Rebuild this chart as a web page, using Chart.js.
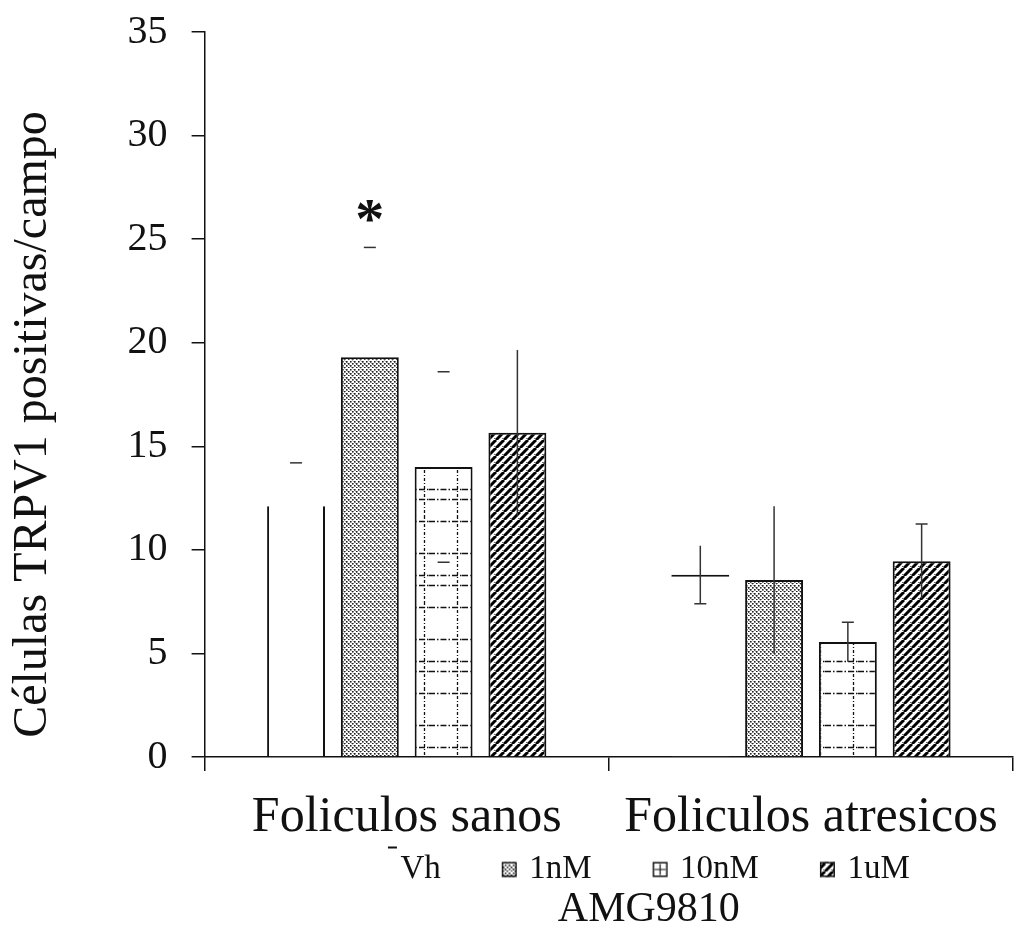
<!DOCTYPE html>
<html>
<head>
<meta charset="utf-8">
<script src="https://cdn.jsdelivr.net/npm/chart.js@4.4.1/dist/chart.umd.min.js"></script>
<style>
  html, body { margin: 0; padding: 0; background: #fff; }
  #wrap { width: 1020px; height: 926px; }
</style>
</head>
<body>
<div id="wrap"><canvas id="chart"></canvas></div>
<script>
// values: bar height (mean) and error half-length
const groups = ["Foliculos sanos", "Foliculos atresicos"];
const doses = ["Vh", "1nM", "10nM", "1uM"];
const vhMean = [12.1, 8.8];
const vhErr = [2.1, 1.4];
const nm1Mean = [19.3, 8.55];
const nm1Err = [5.3, 3.55];
const nm10Mean = [14.0, 5.55];
const nm10Err = [4.6, 0.95];
const um1Mean = [15.65, 9.45];
const um1Err = [4.0, 1.8];
const nm1Marks = ["*", ""];
const yMin = 0, yMax = 35, yStep = 5;

const FONT = "'Liberation Serif', 'Times New Roman', serif";
const INK = "#111";

// ---- fill patterns ----
function tile(w, h, draw) {
  const c = document.createElement("canvas");
  c.width = w; c.height = h;
  const g = c.getContext("2d");
  g.fillStyle = "#fff";
  g.fillRect(0, 0, w, h);
  draw(g);
  return c;
}
const dotTile = tile(8, 8, g => {
  g.strokeStyle = "#aaa"; g.lineWidth = 1;
  for (const k of [-8, 0, 8]) { g.beginPath(); g.moveTo(k, 0); g.lineTo(k + 8, 8); g.stroke(); }
  g.fillStyle = "#222";
  for (const [x, y] of [[0, 7], [2, 5], [4, 3], [6, 1], [0, 3], [2, 1], [4, 7], [6, 5]]) g.fillRect(x, y, 1.6, 1.6);
});
const gridTile = tile(33, 86, g => {
  g.strokeStyle = "#111"; g.lineWidth = 1.3;
  g.setLineDash([6, 2, 1.5, 2]);
  for (const y of [5.5, 37.5, 59.5, 69.5]) { g.beginPath(); g.moveTo(0, y); g.lineTo(33, y); g.stroke(); }
  g.setLineDash([3, 2, 1, 2]);
  g.beginPath(); g.moveTo(28.5, 0); g.lineTo(28.5, 86); g.stroke();
});
const stripeTile = tile(8, 8, g => {
  g.strokeStyle = "#000"; g.lineWidth = 3;
  for (const k of [-8, 0, 8]) { g.beginPath(); g.moveTo(k, 8); g.lineTo(k + 8, 0); g.stroke(); }
  g.fillStyle = "#666";
  g.fillRect(6, 6, 1, 1);
});
const ctx = document.getElementById("chart").getContext("2d");
const dotFill = ctx.createPattern(dotTile, "repeat");
const gridFill = ctx.createPattern(gridTile, "repeat");
const stripeFill = ctx.createPattern(stripeTile, "repeat");

// ---- legend icons (transparent margin on the left gives the item spacing) ----
function icon(draw) {
  const c = document.createElement("canvas");
  c.width = 92; c.height = 60;
  const g = c.getContext("2d");
  draw(g, 67, 22.5, 15);
  return c;
}
function boxed(g, x, y, s) {
  g.strokeStyle = INK; g.lineWidth = 1.5;
  g.strokeRect(x + 0.75, y + 0.75, s - 1.5, s - 1.5);
}
const icons = [
  icon(g => { g.fillStyle = INK; g.fillRect(82, 7, 9, 2); }),
  icon((g, x, y, s) => { g.fillStyle = g.createPattern(dotTile, "repeat"); g.fillRect(x, y, s, s); boxed(g, x, y, s); }),
  icon((g, x, y, s) => { g.fillStyle = "#fff"; g.fillRect(x, y, s, s); boxed(g, x, y, s);
    g.lineWidth = 1.2; g.beginPath(); g.moveTo(x + 7.5, y + 2); g.lineTo(x + 7.5, y + s - 2);
    g.moveTo(x + 2, y + 7.5); g.lineTo(x + s - 2, y + 7.5); g.stroke(); }),
  icon((g, x, y, s) => { g.fillStyle = g.createPattern(stripeTile, "repeat"); g.fillRect(x, y, s, s); boxed(g, x, y, s); }),
];

// which parts of each whisker are visible in the figure, per dose, per group
const errorParts = [
  [["top"], ["line", "bottom"]],
  [["top"], ["line"]],
  [["top", "bottom"], ["line", "top"]],
  [["line"], ["line", "top"]],
];

const errorBars = {
  id: "errorBars",
  afterDatasetsDraw(chart) {
    const c = chart.ctx, ys = chart.scales.y;
    c.save();
    c.strokeStyle = "#333";
    c.lineWidth = 1.5;
    chart.data.datasets.forEach((ds, i) => {
      chart.getDatasetMeta(i).data.forEach((bar, j) => {
        const hi = ys.getPixelForValue(ds.data[j] + ds.errors[j]);
        const lo = ys.getPixelForValue(ds.data[j] - ds.errors[j]);
        const parts = errorParts[i][j];
        c.beginPath();
        if (parts.includes("line")) { c.moveTo(bar.x, hi); c.lineTo(bar.x, lo); }
        if (parts.includes("top")) { c.moveTo(bar.x - 6, hi); c.lineTo(bar.x + 6, hi); }
        if (parts.includes("bottom")) { c.moveTo(bar.x - 6, lo); c.lineTo(bar.x + 6, lo); }
        c.stroke();
        if (ds.marks && ds.marks[j]) {
          c.fillStyle = INK;
          c.font = "bold 58px " + FONT;
          c.textAlign = "center";
          c.textBaseline = "alphabetic";
          c.fillText(ds.marks[j], bar.x, hi - 9);
        }
      });
    });
    c.restore();
  }
};

// legend and axis title sit a little off where the layout puts them
const nudge = {
  id: "nudge",
  afterLayout(chart) {
    const lg = chart.legend, tt = chart.titleBlock;
    lg.left += 6; lg.right += 6; lg.top -= 20; lg.bottom = lg.top + 60;
    tt.left += 40; tt.right += 40; tt.top += 5; tt.bottom += 5;
  }
};

new Chart(ctx, {
  type: "bar",
  data: {
    labels: groups,
    datasets: [
      { label: doses[0], data: vhMean, errors: vhErr, backgroundColor: "#fff", borderColor: INK,
        borderWidth: c => c.dataIndex === 0 ? { left: 2, right: 2, top: 0, bottom: 0 } : { left: 0, right: 0, top: 2, bottom: 0 } },
      { label: doses[1], data: nm1Mean, errors: nm1Err, marks: nm1Marks, backgroundColor: dotFill, borderColor: INK, borderWidth: 2 },
      { label: doses[2], data: nm10Mean, errors: nm10Err, backgroundColor: gridFill, borderColor: INK, borderWidth: 2 },
      { label: doses[3], data: um1Mean, errors: um1Err, backgroundColor: stripeFill, borderColor: INK, borderWidth: 2 },
    ]
  },
  options: {
    responsive: true,
    maintainAspectRatio: false,
    animation: false,
    categoryPercentage: 0.73,
    barPercentage: 0.785,
    layout: { padding: { top: 32, right: 1, left: 0, bottom: 0 } },
    scales: {
      x: {
        grid: { drawOnChartArea: false, tickLength: 14, color: INK, lineWidth: 1.5 },
        border: { color: INK, width: 1.5 },
        ticks: { color: INK, font: { family: FONT, size: 50, lineHeight: 1 }, padding: 22, maxRotation: 0, autoSkip: false }
      },
      y: {
        min: yMin, max: yMax,
        grid: { drawOnChartArea: false, tickLength: 13, color: INK, lineWidth: 1.5 },
        border: { color: INK, width: 1.5 },
        ticks: { stepSize: yStep, color: INK, font: { family: FONT, size: 40, lineHeight: 0.3 }, padding: 24 },
        title: { display: true, text: "Células TRPV1 positivas/campo\u00a0\u00a0\u00a0\u00a0\u00a0", color: INK,
          font: { family: FONT, size: 48 }, padding: { top: 5, bottom: 41 } }
      }
    },
    plugins: {
      legend: {
        position: "bottom",
        fullSize: false,
        maxHeight: 19,
        labels: {
          color: INK, font: { family: FONT, size: 33 }, padding: 8,
          usePointStyle: true, pointStyleWidth: 64,
          generateLabels: () => doses.map((d, i) => ({ text: d, pointStyle: icons[i], fillStyle: "#fff",
            strokeStyle: "#fff", lineWidth: 0, hidden: false, datasetIndex: i, fontColor: INK }))
        }
      },
      title: {
        display: true, position: "bottom", fullSize: false, text: "AMG9810", color: INK,
        font: { family: FONT, size: 42, weight: "normal", lineHeight: 1 }, padding: { top: 0, bottom: 0 }
      },
      tooltip: { enabled: false }
    }
  },
  plugins: [errorBars, nudge]
});
</script>
</body>
</html>
